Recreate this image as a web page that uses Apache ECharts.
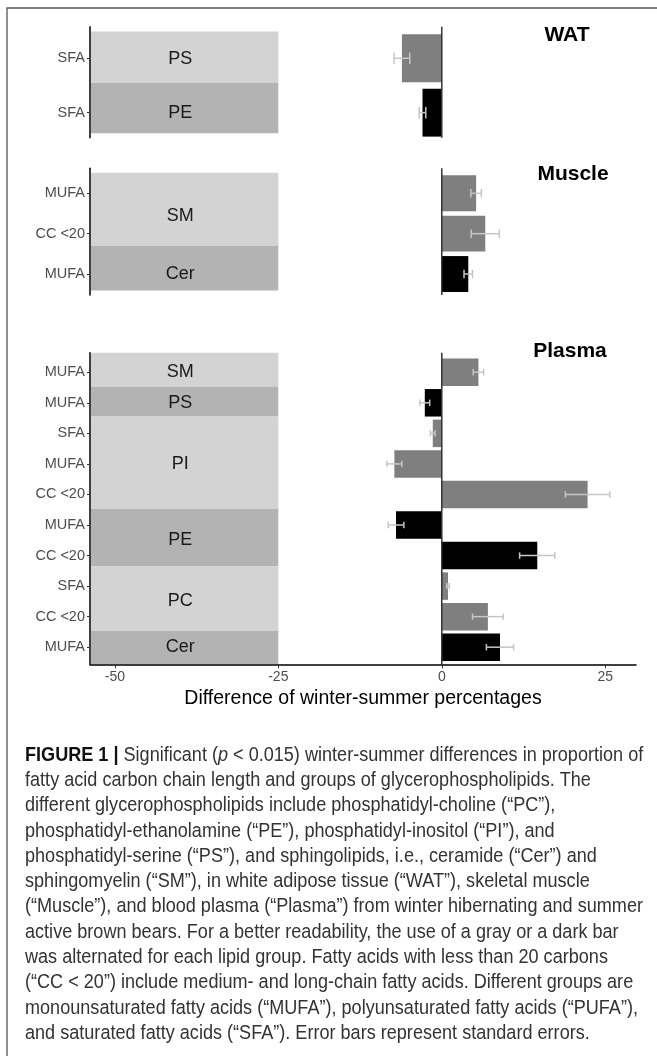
<!DOCTYPE html>
<html><head><meta charset="utf-8">
<script src="https://cdn.jsdelivr.net/npm/echarts@6/dist/echarts.min.js"></script>
<style>html,body{margin:0;padding:0;background:#fff}#c{width:657px;height:1056px}</style>
</head><body><div id="c"></div><script>
// ---------------- DATA ----------------
const xTicks = [-50, -25, 0, 25];
const axisTitle = 'Difference of winter-summer percentages';

// WAT
const watTitle = 'WAT';
const watRows = ['SFA', 'SFA'];
const watValues = [-6.1, -2.95];
const watSE = [1.2, 0.5];
const watRowGroup = [0, 1];
const watGroups = ['PS', 'PE'];
const watGroupFrom = [0.51, 1.45];
const watGroupTo = [1.45, 2.38];
const watGroupLabelAt = [1.02, 2];

// Muscle
const muscleTitle = 'Muscle';
const muscleRows = ['MUFA', 'CC <20', 'MUFA'];
const muscleValues = [5.25, 6.65, 4.05];
const muscleSE = [0.8, 2.15, 0.65];
const muscleRowGroup = [0, 0, 1];
const muscleGroups = ['SM', 'Cer'];
const muscleGroupFrom = [0.49, 2.30];
const muscleGroupTo = [2.30, 3.41];
const muscleGroupLabelAt = [1.56, 3.0];

// Plasma
const plasmaTitle = 'Plasma';
const plasmaRows = ['MUFA', 'MUFA', 'SFA', 'MUFA', 'CC <20', 'MUFA', 'CC <20', 'SFA', 'CC <20', 'MUFA'];
const plasmaValues = [5.6, -2.6, -1.38, -7.25, 22.3, -7.0, 14.6, 0.95, 7.05, 8.9];
const plasmaSE = [0.8, 0.75, 0.36, 1.15, 3.4, 1.2, 2.7, 0.2, 2.35, 2.08];
const plasmaRowGroup = [0, 1, 2, 2, 2, 3, 3, 4, 4, 5];
const plasmaGroups = ['SM', 'PS', 'PI', 'PE', 'PC', 'Cer'];
const plasmaGroupFrom = [0.36, 1.47, 2.45, 5.48, 7.36, 9.46];
const plasmaGroupTo = [1.47, 2.45, 5.48, 7.36, 9.46, 10.56];
const plasmaGroupLabelAt = [1, 2, 4, 6.5, 8.5, 10];

const captionLines = [
  '{b|FIGURE 1 |} Significant ({i|p} < 0.015) winter-summer differences in proportion of',
  'fatty acid carbon chain length and groups of glycerophospholipids. The',
  'different glycerophospholipids include phosphatidyl-choline (\u201CPC\u201D),',
  'phosphatidyl-ethanolamine (\u201CPE\u201D), phosphatidyl-inositol (\u201CPI\u201D), and',
  'phosphatidyl-serine (\u201CPS\u201D), and sphingolipids, i.e., ceramide (\u201CCer\u201D) and',
  'sphingomyelin (\u201CSM\u201D), in white adipose tissue (\u201CWAT\u201D), skeletal muscle',
  '(\u201CMuscle\u201D), and blood plasma (\u201CPlasma\u201D) from winter hibernating and summer',
  'active brown bears. For a better readability, the use of a gray or a dark bar',
  'was alternated for each lipid group. Fatty acids with less than 20 carbons',
  '(\u201CCC < 20\u201D) include medium- and long-chain fatty acids. Different groups are',
  'monounsaturated fatty acids (\u201CMUFA\u201D), polyunsaturated fatty acids (\u201CPUFA\u201D),',
  'and saturated fatty acids (\u201CSFA\u201D). Error bars represent standard errors.'
];

// ---------------- LAYOUT / STYLE ----------------
const FONT = '"Liberation Sans", Arial, Helvetica, sans-serif';
const X_MIN = -53.8, X_MAX = 29.7;
const GRID_LEFT = 90, GRID_WIDTH = 546;
const BOX_RIGHT = -25, BOX_LABEL_X = -40;
const BOX_FILL = ['#d3d3d3', '#b3b3b3'];
const BAR_FILL = ['#7f7f7f', '#000000'];
const ERR_COLOR = '#c6c6c6';

const panels = [
  {title: watTitle, rows: watRows, values: watValues, se: watSE, rowGroup: watRowGroup,
   groups: watGroups, from: watGroupFrom, to: watGroupTo, labelAt: watGroupLabelAt,
   top: 26.7, height: 111, yMin: 0.42, yMax: 2.46, barFrac: 0.88, titleX: 567, titleY: 35},
  {title: muscleTitle, rows: muscleRows, values: muscleValues, se: muscleSE, rowGroup: muscleRowGroup,
   groups: muscleGroups, from: muscleGroupFrom, to: muscleGroupTo, labelAt: muscleGroupLabelAt,
   top: 168.3, height: 126.7, yMin: 0.38, yMax: 3.52, barFrac: 0.89, titleX: 573, titleY: 174},
  {title: plasmaTitle, rows: plasmaRows, values: plasmaValues, se: plasmaSE, rowGroup: plasmaRowGroup,
   groups: plasmaGroups, from: plasmaGroupFrom, to: plasmaGroupTo, labelAt: plasmaGroupLabelAt,
   top: 352.7, height: 311.6, yMin: 0.36, yMax: 10.56, barFrac: 0.9, titleX: 570, titleY: 351}
];

const grids = [], xAxes = [], yAxes = [], series = [], graphics = [];

panels.forEach((p, i) => {
  const isLast = i === panels.length - 1;
  grids.push({left: GRID_LEFT, width: GRID_WIDTH, top: p.top, height: p.height});
  xAxes.push({
    gridIndex: i, type: 'value', min: X_MIN, max: X_MAX, show: isLast, z: 10,
    splitLine: {show: false},
    axisLine: {show: true, onZero: false, lineStyle: {color: '#000', width: 1.5}},
    axisTick: {show: true, customValues: xTicks, length: 4, lineStyle: {color: '#333', width: 1}},
    axisLabel: {customValues: xTicks, margin: 6, color: '#4d4d4d', fontSize: 14, fontFamily: FONT},
    name: isLast ? axisTitle : '', nameLocation: 'middle', nameGap: 24,
    nameTextStyle: {fontSize: 19.5, color: '#000', fontFamily: FONT}
  });
  const pos = p.rows.map((_, k) => k + 1);
  yAxes.push({
    gridIndex: i, type: 'value', inverse: true, min: p.yMin, max: p.yMax, z: 10,
    splitLine: {show: false},
    axisLine: {show: true, onZero: false, lineStyle: {color: '#000', width: 1.5}},
    axisTick: {show: true, customValues: pos, length: 3, lineStyle: {color: '#333', width: 1}},
    axisLabel: {customValues: pos, margin: 5, color: '#4d4d4d', fontSize: 14.5, fontFamily: FONT,
      formatter: v => p.rows[Math.round(v) - 1] || ''}
  });

  // group background boxes + labels
  series.push({
    type: 'custom', xAxisIndex: i, yAxisIndex: i, silent: true,
    data: p.groups.map((g, k) => [p.from[k], p.to[k], p.labelAt[k], k]),
    renderItem: (params, api) => {
      const a = api.coord([BOX_RIGHT, api.value(0)]);
      const b = api.coord([BOX_RIGHT, api.value(1)]);
      const c = api.coord([BOX_LABEL_X, api.value(2)]);
      const k = api.value(3);
      const x0 = params.coordSys.x + 1;
      return {type: 'group', children: [
        {type: 'rect', shape: {x: x0, y: Math.min(a[1], b[1]), width: a[0] - x0, height: Math.abs(b[1] - a[1])},
         style: {fill: BOX_FILL[k % 2]}},
        {type: 'text', x: c[0], y: c[1],
         style: {text: p.groups[k], fill: '#1a1a1a', fontSize: 18, fontFamily: FONT, align: 'center', verticalAlign: 'middle'}}
      ]};
    }
  });

  // bars + error bars
  series.push({
    type: 'custom', xAxisIndex: i, yAxisIndex: i, silent: true,
    data: p.values.map((v, k) => [v, k + 1, p.rowGroup[k], p.se[k]]),
    renderItem: (params, api) => {
      const v = api.value(0), y = api.value(1), g = api.value(2), se = api.value(3);
      const p0 = api.coord([0, y]), p1 = api.coord([v, y]);
      const h = Math.abs(api.size([0, p.barFrac])[1]);
      const cap = Math.abs(api.size([0, 0.21])[1]) / 2;
      const e0 = api.coord([v - se, y]), e1 = api.coord([v + se, y]);
      const ls = {stroke: ERR_COLOR, lineWidth: 1.5};
      return {type: 'group', children: [
        {type: 'rect', shape: {x: Math.min(p0[0], p1[0]), y: p0[1] - h / 2, width: Math.abs(p1[0] - p0[0]), height: h},
         style: {fill: BAR_FILL[g % 2]}},
        {type: 'line', shape: {x1: e0[0], y1: e0[1], x2: e1[0], y2: e1[1]}, style: ls},
        {type: 'line', shape: {x1: e0[0], y1: e0[1] - cap, x2: e0[0], y2: e0[1] + cap}, style: ls},
        {type: 'line', shape: {x1: e1[0], y1: e1[1] - cap, x2: e1[0], y2: e1[1] + cap}, style: ls}
      ]};
    }
  });

  // zero reference line
  series.push({
    type: 'custom', xAxisIndex: i, yAxisIndex: i, silent: true,
    data: [[0, 1]],
    renderItem: (params, api) => {
      const x = api.coord([0, 1])[0];
      return {type: 'line', shape: {x1: x, y1: params.coordSys.y, x2: x, y2: params.coordSys.y + params.coordSys.height},
        style: {stroke: '#333', lineWidth: 1.5}};
    }
  });

  graphics.push({type: 'text', x: p.titleX, y: p.titleY, silent: true,
    style: {text: p.title, fill: '#000', fontSize: 21, fontWeight: 'bold', fontFamily: FONT, align: 'center', verticalAlign: 'middle'}});
});

// frame
graphics.push({type: 'rect', silent: true, z: -10, shape: {x: 7, y: 8, width: 700, height: 1100},
  style: {fill: 'none', stroke: '#555', lineWidth: 1.3}});

// caption
const CAP_FS = 20.5, CAP_X = 25, CAP_Y0 = 755, CAP_DY = 25.3, CAP_REF_LINE = 6, CAP_REF_WIDTH = 618;
const ctx = document.createElement('canvas').getContext('2d');
ctx.font = CAP_FS + 'px ' + FONT;
const capScale = CAP_REF_WIDTH / ctx.measureText(captionLines[CAP_REF_LINE]).width;
captionLines.forEach((t, i) => {
  graphics.push({type: 'text', x: CAP_X, y: CAP_Y0 + CAP_DY * i, scaleX: capScale, silent: true,
    style: {text: t, fill: '#333', fontSize: CAP_FS, fontFamily: FONT, verticalAlign: 'middle', align: 'left',
      rich: {
        b: {fontSize: CAP_FS, fontFamily: FONT, fontWeight: 'bold', fill: '#111'},
        i: {fontSize: CAP_FS, fontFamily: FONT, fontStyle: 'italic', fill: '#333'}
      }}});
});

const chart = echarts.init(document.getElementById('c'), null, {renderer: 'canvas'});
chart.setOption({
  animation: false,
  backgroundColor: '#fff',
  grid: grids, xAxis: xAxes, yAxis: yAxes, series: series, graphic: graphics
});
</script></body></html>
